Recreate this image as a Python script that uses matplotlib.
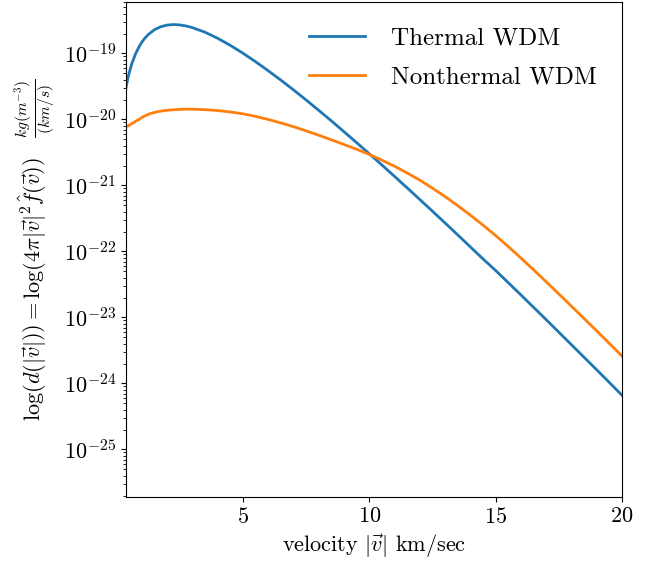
import numpy as np
import matplotlib
matplotlib.use("Agg")
import matplotlib.pyplot as plt

plt.rcParams['font.family'] = 'serif'
plt.rcParams['font.serif'] = ['cmr10']
plt.rcParams['mathtext.fontset'] = 'cm'
plt.rcParams['axes.formatter.use_mathtext'] = True

# velocity (km/s) and log10 of the distribution
v_thermal = [0.36, 0.4, 0.45, 0.5, 0.6, 0.75, 0.9, 1.0, 1.1, 1.25, 1.5, 1.75, 2.0, 2.25,
             2.5, 2.75, 3.0, 3.5, 4.0, 4.5, 5.0, 5.5, 6.0, 6.5, 7.0, 7.5, 8.0, 8.5, 9.0,
             9.5, 10.0, 10.5, 11.0, 11.5, 12.0, 12.5, 13.0, 13.5, 14.0, 14.5, 15.0,
             15.5, 16.0, 16.5, 17.0, 17.5, 18.0, 18.5, 19.0, 19.5, 20.0]
log_thermal = [-19.54, -19.455, -19.365, -19.287, -19.155, -19.003, -18.889, -18.828,
               -18.777, -18.714, -18.640, -18.595, -18.571, -18.563, -18.569, -18.585,
               -18.610, -18.680, -18.772, -18.879, -18.998, -19.127, -19.264, -19.406,
               -19.554, -19.707, -19.864, -20.024, -20.188, -20.354, -20.522, -20.692,
               -20.865, -21.039, -21.215, -21.392, -21.571, -21.751, -21.933, -22.115,
               -22.29, -22.475, -22.66, -22.848, -23.035, -23.225, -23.415, -23.605,
               -23.795, -23.987, -24.18]

v_nonthermal = [0.45, 1.05, 1.3, 1.6, 1.9, 2.2, 2.6, 3.0, 3.5, 4.0, 4.5, 5.0, 5.5, 6.0,
                6.5, 7.0, 7.5, 8.0, 8.5, 9.0, 9.5, 10.0, 10.5, 11.0, 11.5, 12.0, 12.5,
                13.0, 13.5, 14.0, 14.5, 15.0, 15.5, 16.0, 16.5, 17.0, 17.5, 18.0, 18.5,
                19.0, 19.5, 20.0]
log_nonthermal = [-20.10, -19.96, -19.915, -19.885, -19.866, -19.855, -19.847, -19.845,
                  -19.853, -19.866, -19.888, -19.916, -19.955, -20.001, -20.054, -20.111,
                  -20.174, -20.241, -20.31, -20.381, -20.453, -20.531, -20.618, -20.711,
                  -20.813, -20.921, -21.043, -21.171, -21.308, -21.451, -21.603, -21.761,
                  -21.928, -22.101, -22.279, -22.461, -22.645, -22.831, -23.018, -23.206,
                  -23.396, -23.586]

d_thermal = 10.0 ** np.array(log_thermal)
d_nonthermal = 10.0 ** np.array(log_nonthermal)

fig = plt.figure(figsize=(6.62, 5.62), dpi=100)
ax = fig.add_axes([0.190, 0.1157, 0.7496, 0.8807])

ax.plot(v_thermal, d_thermal, color='#1f77b4', lw=2, label='Thermal WDM')
ax.plot(v_nonthermal, d_nonthermal, color='#ff7f0e', lw=2, label='Nonthermal WDM')

ax.set_yscale('log')
ax.set_xlim(0.36, 20)
ax.set_ylim(1.9e-26, 6.0e-19)
ax.set_xticks([5, 10, 15, 20])
ax.set_yticks([1e-25, 1e-24, 1e-23, 1e-22, 1e-21, 1e-20, 1e-19])
ax.tick_params(labelsize=16)

ax.set_xlabel(r'velocity $|\vec{v}|$ km/sec', fontsize=16)
ax.set_ylabel(r'$\log(d(|\vec{v}|)) = \log(4\pi|\vec{v}|^2\hat{f}(\vec{v}))\quad\frac{kg(m^{-3})}{(km/s)}$',
              fontsize=16)

ax.legend(loc='upper right', fontsize=18, frameon=False, handlelength=2.25,
          handletextpad=1.05, labelspacing=0.65, borderaxespad=0.6)

fig.savefig('out.png', dpi=100)
